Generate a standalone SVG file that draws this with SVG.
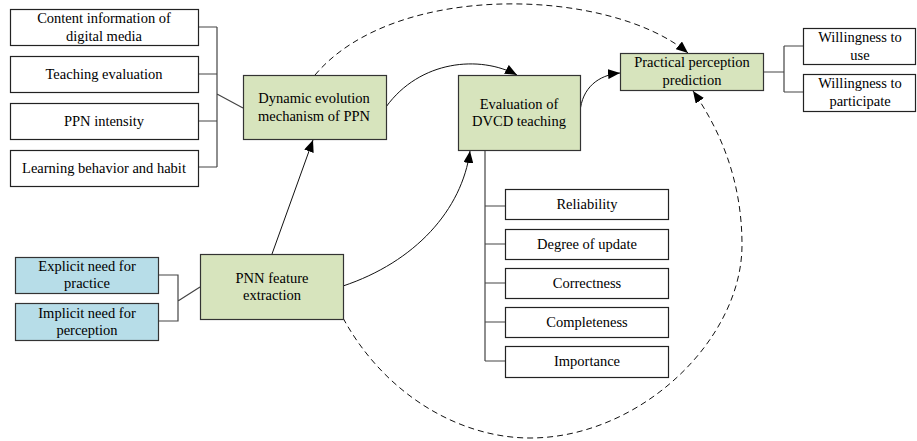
<svg xmlns="http://www.w3.org/2000/svg" width="917" height="441" viewBox="0 0 917 441" font-family="'Liberation Serif', 'Times New Roman', serif">
<style>
.box{fill:#fff;stroke:#222;stroke-width:1.2}
.g{fill:#d7e4bd;stroke:#333;stroke-width:1.2}
.b{fill:#b7dde8;stroke:#333;stroke-width:1.2}
.t{font-family:'Liberation Serif','Times New Roman',serif;font-size:14.5px;fill:#000;text-anchor:middle}
.br{fill:none;stroke:#444;stroke-width:1.2}
.ar{fill:none;stroke:#111;stroke-width:1}
.da{fill:none;stroke:#111;stroke-width:1;stroke-dasharray:6,4}
</style>
<defs>
<marker id="ah" markerUnits="userSpaceOnUse" markerWidth="12" markerHeight="10" refX="12" refY="5" orient="auto">
<path d="M0,0 L12,5 L0,10 z" fill="#000"/>
</marker>
</defs>
<rect width="917" height="441" fill="#fff"/>
<g id="connectors">
<path class="br" d="M198,27 H217 M198,74 H217 M198,121 H217 M198,167 H217 M217,27 V167 M217,94 L243,108"/>
<path class="br" d="M485,150 V361 M485,206 H505 M485,244 H505 M485,283 H505 M485,322 H505 M485,361 H505"/>
<path class="br" d="M763,72 H784 M784,46 V92 M784,46 H803 M784,92 H803"/>
<path class="br" d="M158,275 H178 V321 H158 M178,301 L200,287"/>
<path class="ar" d="M272,254 L313,140" marker-end="url(#ah)"/>
<path class="ar" d="M343,286 C415,262 462,210 470,151" marker-end="url(#ah)"/>
<path class="ar" d="M386,107 C420,60 480,55 517,75" marker-end="url(#ah)"/>
<path class="ar" d="M580,112 C582,88 598,75 620,73" marker-end="url(#ah)"/>
<path class="da" d="M315,75 C395,-20 610,-12 688,53" marker-end="url(#ah)"/>
<path class="da" d="M343,318 C385,395 460,438 530,438 C640,438 742,340 742,245 C742,180 720,130 693,91" marker-end="url(#ah)"/>
</g>
<g id="n-content"><rect class="box" x="10.5" y="9.5" width="188" height="36"/><text class="t" x="104" y="23">Content information of</text><text class="t" x="104" y="41">digital media</text></g>
<g id="n-teaching"><rect class="box" x="10.5" y="56.5" width="188" height="36"/><text class="t" x="104" y="79">Teaching evaluation</text></g>
<g id="n-ppn"><rect class="box" x="10.5" y="103.5" width="188" height="36"/><text class="t" x="104" y="126">PPN intensity</text></g>
<g id="n-learning"><rect class="box" x="10.5" y="150.5" width="188" height="36"/><text class="t" x="104" y="173">Learning behavior and habit</text></g>
<g id="n-dynamic"><rect class="g" x="243.5" y="75.5" width="143" height="64"/><text class="t" x="314" y="103">Dynamic evolution</text><text class="t" x="314" y="121">mechanism of PPN</text></g>
<g id="n-eval"><rect class="g" x="458.5" y="75.5" width="122" height="75"/><text class="t" x="519" y="109">Evaluation of</text><text class="t" x="519" y="126">DVCD teaching</text></g>
<g id="n-practical"><rect class="g" x="620.5" y="53.5" width="143" height="37"/><text class="t" x="692" y="67">Practical perception</text><text class="t" x="692" y="85">prediction</text></g>
<g id="n-use"><rect class="box" x="803.5" y="28.5" width="112" height="36"/><text class="t" x="860" y="42">Willingness to</text><text class="t" x="860" y="60">use</text></g>
<g id="n-participate"><rect class="box" x="803.5" y="74.5" width="112" height="37"/><text class="t" x="860" y="88">Willingness to</text><text class="t" x="860" y="106">participate</text></g>
<g id="n-explicit"><rect class="b" x="15.5" y="257.5" width="143" height="36"/><text class="t" x="87" y="271">Explicit need for</text><text class="t" x="87" y="288">practice</text></g>
<g id="n-implicit"><rect class="b" x="15.5" y="303.5" width="143" height="37"/><text class="t" x="87" y="318">Implicit need for</text><text class="t" x="87" y="335">perception</text></g>
<g id="n-pnn"><rect class="g" x="200.5" y="254.5" width="143" height="65"/><text class="t" x="272" y="283">PNN feature</text><text class="t" x="272" y="300">extraction</text></g>
<g id="n-reliability"><rect class="box" x="505.5" y="189.5" width="163" height="30"/><text class="t" x="587" y="209">Reliability</text></g>
<g id="n-degree"><rect class="box" x="505.5" y="229.5" width="163" height="30"/><text class="t" x="587" y="249">Degree of update</text></g>
<g id="n-correctness"><rect class="box" x="505.5" y="268.5" width="163" height="30"/><text class="t" x="587" y="288">Correctness</text></g>
<g id="n-completeness"><rect class="box" x="505.5" y="307.5" width="163" height="30"/><text class="t" x="587" y="327">Completeness</text></g>
<g id="n-importance"><rect class="box" x="505.5" y="346.5" width="163" height="31"/><text class="t" x="587" y="366">Importance</text></g>
</svg>
